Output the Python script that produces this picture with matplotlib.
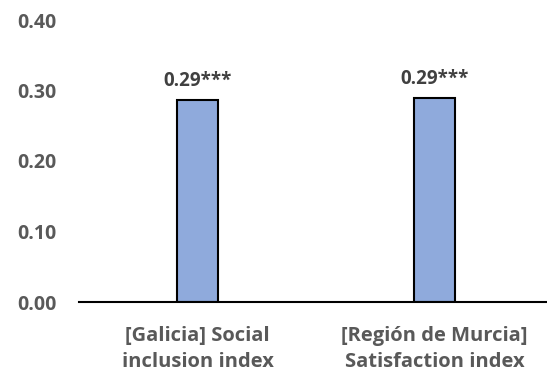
import matplotlib
matplotlib.use("Agg")
import matplotlib.pyplot as plt

# ── Data ─────────────────────────────────────────────────────────────────────
categories = ["[Galicia] Social\ninclusion index",
              "[Región de Murcia]\nSatisfaction index"]
values = [0.287, 0.289]
labels = ["0.29***", "0.29***"]
yticks = [0.00, 0.10, 0.20, 0.30, 0.40]

# ── Style ────────────────────────────────────────────────────────────────────
plt.rcParams.update({
    "font.family": "Open Sans",
    "font.weight": "bold",
})
BAR = "#8FAADC"
TEXT = "#595959"

fig = plt.figure(figsize=(5.47, 3.74), dpi=100)
ax = fig.add_axes([79 / 547, 72 / 374, 474 / 547, 282 / 374])

x = range(len(categories))
ax.bar(x, values, width=0.17, color=BAR, edgecolor="black", linewidth=1.5,
       zorder=2)

for xi, v, lab in zip(x, values, labels):
    ax.text(xi, v + 0.013, lab, ha="center", va="bottom", fontsize=13.5,
            fontweight="bold", color="#404040")

ax.set_xlim(-0.5, 1.5)
ax.set_ylim(0, 0.40)
ax.set_yticks(yticks)
ax.set_yticklabels([f"{t:.2f}" for t in yticks], fontsize=14,
                   fontweight="bold", color=TEXT)
ax.set_xticks(list(x))
ax.set_xticklabels(categories, fontsize=14.5, fontweight="bold", color=TEXT,
                   linespacing=1.45)
ax.tick_params(axis="both", length=0)
ax.tick_params(axis="y", pad=16)
ax.tick_params(axis="x", pad=17)

for side in ("top", "right", "left"):
    ax.spines[side].set_visible(False)
ax.spines["bottom"].set_color("black")
ax.spines["bottom"].set_linewidth(1.5)

fig.savefig("out.png", dpi=100)
